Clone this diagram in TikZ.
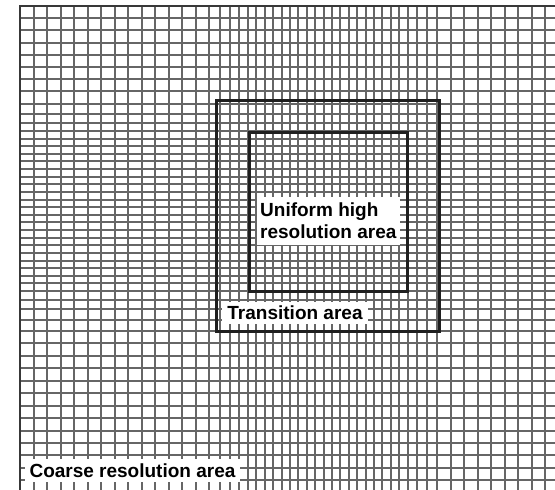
\documentclass[tikz,border=0pt]{standalone}
\usepackage{fontspec}
\setmainfont{Liberation Sans}
\tikzset{
  gridline/.style={line width=2pt, draw=black!60},
  borderline/.style={line width=2pt, draw=black!78},
  areabox/.style={line width=3pt, draw=black!88},
  lbl/.style={fill=white, inner sep=0pt, font=\fontsize{19}{22}\selectfont\bfseries}
}
\begin{document}
\begin{tikzpicture}[x=1pt,y=-1pt]
\useasboundingbox (0,0) rectangle (555,490);
\fill[white] (0,0) rectangle (555,490);
% vertical grid lines
\foreach \k in {0,...,14} \draw[gridline] ({round(20+13.5*\k)},6) -- ({round(20+13.5*\k)},490);
\foreach \x in {220,230,239,248} \draw[gridline] (\x,6) -- (\x,490);
\foreach \k in {1,...,19} \draw[gridline] ({round(248+8.4*\k)},6) -- ({round(248+8.4*\k)},490);
\foreach \x in {417,427,437} \draw[gridline] (\x,6) -- (\x,490);
\foreach \k in {1,...,8} \draw[gridline] ({round(437+13.5*\k)},6) -- ({round(437+13.5*\k)},490);
% horizontal grid lines
\foreach \k in {0,...,8} \draw[gridline] (20,{round(6+12.2*\k)}) -- (555,{round(6+12.2*\k)});
\foreach \y in {114,123,131} \draw[gridline] (20,\y) -- (555,\y);
\foreach \k in {1,...,21} \draw[gridline] (20,{round(131+7.62*\k)}) -- (555,{round(131+7.62*\k)});
\foreach \y in {300,309,320,331} \draw[gridline] (20,\y) -- (555,\y);
\foreach \k in {1,...,12} \draw[gridline] (20,{round(331+12.45*\k)}) -- (555,{round(331+12.45*\k)});
% outer border
\draw[borderline] (20,490) -- (20,6) -- (555,6);
% area boxes
\draw[areabox] (216.5,100.5) rectangle (439.5,331.5);
\draw[areabox] (249.5,132.5) rectangle (407.5,291.5);
% labels
\node[lbl, minimum width=143.3, minimum height=48.3, align=left] (uni) at (328.3,220.9) {Uniform high\\resolution area};
\node[lbl, minimum width=146, minimum height=22] (trans) at (295,313) {Transition area};
\node[lbl, minimum width=215, minimum height=23] (coarse) at (132.5,470.5) {Coarse resolution area};
\end{tikzpicture}
\end{document}
